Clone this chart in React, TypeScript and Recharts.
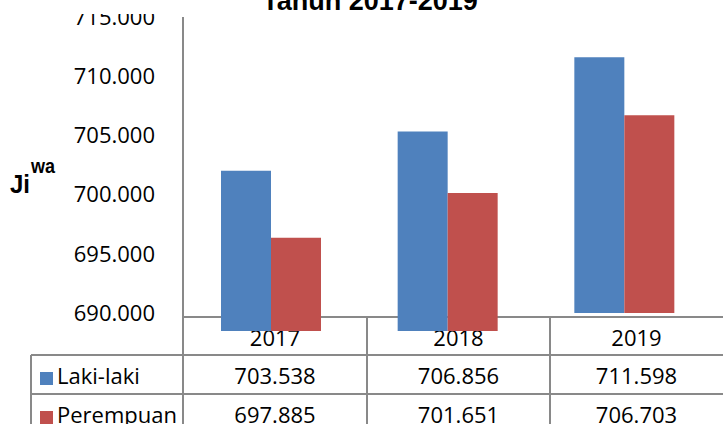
import { BarChart, Bar, XAxis, YAxis, Rectangle } from "recharts";

const years = ["2017", "2018", "2019"];
const lakiLaki = [703538, 706856, 711598];
const perempuan = [697885, 701651, 706703];
const yTicks = [690000, 695000, 700000, 705000, 710000, 715000];

const BLUE = "#4F81BD";
const RED = "#C0504D";
const GRID = "#898989";
const FONT = "'Open Sans', sans-serif";
const BOLD = "'Liberation Sans', Arial, sans-serif";

// Indonesian thousands separator: 703538 -> "703.538"
const fmt = (v: number) => String(v).replace(/\B(?=(\d{3})+(?!\d))/g, ".");

const data = years.map((year, i) => ({
  year,
  laki: lakiLaki[i],
  perempuan: perempuan[i],
}));

// the source rendering drops the 2017/2018 bars a bit below the axis
const ShiftedBar = (props: any) => {
  const yr = props.year ?? props.payload?.year ?? years[props.index];
  const drop = yr !== "2019" ? 18 : 0;
  return <Rectangle {...props} y={Number(props.y) + drop} />;
};

const COLS = [183, 367, 550, 723];
const ROWS = [317, 355, 394, 424];

function TableLayer() {
  const mid = (i: number) => (COLS[i] + COLS[i + 1]) / 2;
  const rows = [
    { label: "Laki-laki", color: BLUE, values: lakiLaki, cy: 375, box: 372 },
    { label: "Perempuan", color: RED, values: perempuan, cy: 414, box: 411 },
  ];
  return (
    <svg
      width={723}
      height={424}
      style={{ position: "absolute", left: 0, top: 0 }}
      fontFamily={FONT}
    >
      <line x1={183} y1={17} x2={183} y2={424} stroke={GRID} strokeWidth={2} />
      <line x1={183} y1={ROWS[0]} x2={723} y2={ROWS[0]} stroke={GRID} strokeWidth={2} />
      <line x1={31} y1={ROWS[1]} x2={723} y2={ROWS[1]} stroke={GRID} strokeWidth={2} />
      <line x1={31} y1={ROWS[2]} x2={723} y2={ROWS[2]} stroke={GRID} strokeWidth={2} />
      <line x1={31} y1={ROWS[1]} x2={31} y2={424} stroke={GRID} strokeWidth={2} />
      <line x1={COLS[1]} y1={ROWS[0]} x2={COLS[1]} y2={424} stroke={GRID} strokeWidth={2} />
      <line x1={COLS[2]} y1={ROWS[0]} x2={COLS[2]} y2={424} stroke={GRID} strokeWidth={2} />
      {years.map((y, i) => (
        <text key={y} x={mid(i)} y={337} textAnchor="middle" dominantBaseline="central" fontSize={22} fill="#000">
          {y}
        </text>
      ))}
      {rows.map((r) => (
        <g key={r.label}>
          <rect x={40} y={r.box} width={13} height={13} fill={r.color} />
          <text x={57} y={r.cy} dominantBaseline="central" fontSize={22} fill="#000">
            {r.label}
          </text>
          {r.values.map((v, i) => (
            <text key={i} x={mid(i)} y={r.cy} textAnchor="middle" dominantBaseline="central" fontSize={22} fill="#000">
              {fmt(v)}
            </text>
          ))}
        </g>
      ))}
      <text x={10} y={193} fontSize={26} fontWeight="bold" fill="#000" fontFamily={BOLD} textLength={20} lengthAdjust="spacingAndGlyphs">
        Ji
      </text>
      <text x={31} y={173} fontSize={21} fontWeight="bold" fill="#000" fontFamily={BOLD} textLength={24} lengthAdjust="spacingAndGlyphs">
        wa
      </text>
    </svg>
  );
}

function TitleLayer() {
  return (
    <svg width={723} height={424} style={{ position: "absolute", left: 0, top: 0, pointerEvents: "none" }}>
      <rect x={0} y={0} width={723} height={14} fill="#fff" />
      <text x={370} y={10} textAnchor="middle" fontSize={27} fontWeight="bold" fill="#000" fontFamily={BOLD}>
        Tahun 2017-2019
      </text>
    </svg>
  );
}

export default function App() {
  return (
    <div style={{ position: "absolute", left: 0, top: 0, width: 723, height: 424, background: "#fff" }}>
      <TableLayer />
      <div style={{ position: "absolute", left: 0, top: 0 }}>
        <BarChart
          width={723}
          height={424}
          data={data}
          margin={{ top: 17, right: 10, bottom: 111, left: 0 }}
          barCategoryGap={38}
          barGap={0}
        >
          <XAxis dataKey="year" hide />
          <YAxis
            width={183}
            domain={[690000, 715000]}
            ticks={yTicks}
            interval={0}
            axisLine={false}
            tickLine={false}
            tickMargin={22}
            tickFormatter={fmt}
            tick={{ fontSize: 22, fill: "#000", fontFamily: FONT }}
          />
          <Bar dataKey="laki" fill={BLUE} shape={ShiftedBar} isAnimationActive={false} />
          <Bar dataKey="perempuan" fill={RED} shape={ShiftedBar} isAnimationActive={false} />
        </BarChart>
      </div>
      <TitleLayer />
    </div>
  );
}
